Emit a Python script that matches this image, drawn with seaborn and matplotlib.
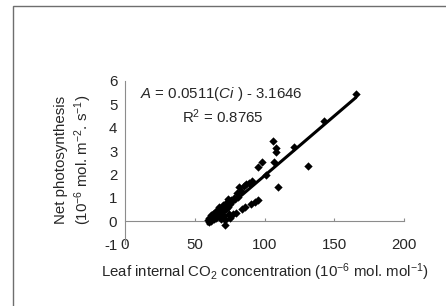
import matplotlib
matplotlib.use("Agg")
import matplotlib.pyplot as plt
import matplotlib.patches as mpatches
import seaborn as sns
import numpy as np
import pandas as pd

# leaf internal CO2 (Ci) vs net photosynthesis (A)
ci = [59.5, 60, 60.5, 61, 61.5, 62, 62.5, 63, 63.5, 64, 64.5, 65, 65.5, 66,
      66.5, 67, 67.5, 68, 68.5, 69, 69.5, 70, 70.5, 71, 71.5, 72, 72.5, 73,
      73.5, 74, 74.5, 75, 75.5, 76, 77, 77.5, 78, 79, 79.5, 80, 81, 82, 83,
      84, 85, 86, 87, 89, 90.5, 91, 93, 95.5, 95, 98.5, 101, 106, 106.5,
      108, 108.5, 109.5, 121.5, 131.5, 142.5, 165.5]
a_net = [0.05, -0.05, 0.15, 0.1, 0.25, 0.0, 0.2, 0.3, 0.1, 0.35, 0.2, 0.4,
         0.15, 0.3, 0.5, 0.25, 0.6, 0.4, 0.1, 0.55, 0.3, 0.45, 0.7, 0.2,
         0.05, -0.15, 0.5, 0.8, 0.95, 0.6, 0.3, 0.75, 0.15, 0.9, 0.85, 0.3,
         1.0, 0.95, 0.35, 1.2, 1.05, 1.45, 1.3, 0.5, 1.5, 0.6, 1.6, 1.65,
         0.75, 1.7, 0.83, 0.9, 2.3, 2.55, 1.97, 3.43, 2.55, 2.97, 3.12, 1.47,
         3.18, 2.37, 4.3, 5.43]

slope = 0.0511
intercept = -3.1646
r2 = 0.8765

x_ticks = [0, 50, 100, 150, 200]
y_ticks = [-1, 0, 1, 2, 3, 4, 5, 6]

df = pd.DataFrame({"Ci": ci, "A": a_net})
fit_x = np.array([min(ci), max(ci)])
fit = pd.DataFrame({"Ci": fit_x, "A": slope * fit_x + intercept})

sns.set_style("white")
plt.rcParams["font.family"] = ["Liberation Sans", "DejaVu Sans"]
plt.rcParams["mathtext.fontset"] = "custom"
plt.rcParams["mathtext.rm"] = "Liberation Sans"
plt.rcParams["mathtext.it"] = "Liberation Sans:italic"
plt.rcParams["mathtext.default"] = "regular"
plt.rcParams["axes.unicode_minus"] = False

fig = plt.figure(figsize=(4.46, 3.06), dpi=100)
ax = fig.add_axes([0.2803, 0.201, 0.6255, 0.5343])

axis_grey = "#8c8c8c"
fs = 10.8

sns.lineplot(data=fit, x="Ci", y="A", color="black", linewidth=2.2, ax=ax)
sns.scatterplot(data=df, x="Ci", y="A", marker="D", s=18, color="black",
                linewidth=0, ax=ax, zorder=3)

ax.set_xlim(0, 200)
ax.set_ylim(-1, 6)
ax.set_xticks(x_ticks)
ax.set_yticks(y_ticks)
ax.set_xlabel("")
ax.set_ylabel("")

for side in ["top", "right", "bottom"]:
    ax.spines[side].set_visible(False)
ax.spines["left"].set_color(axis_grey)
ax.spines["left"].set_linewidth(0.8)

ax.tick_params(axis="y", direction="out", length=2.5, width=0.8,
               color=axis_grey, pad=3, labelsize=fs)
ax.tick_params(axis="x", length=0, pad=-5, labelsize=fs)

# horizontal axis drawn through y = 0, labels stay at the bottom (Excel style)
zero_ax = ax.secondary_xaxis(1 / 7)
zero_ax.set_xticks(x_ticks[1:])
zero_ax.tick_params(direction="in", length=2.5, width=0.8, color=axis_grey,
                    labelbottom=False, labeltop=False)
zero_ax.spines["bottom"].set_color(axis_grey)
zero_ax.spines["bottom"].set_linewidth(0.8)
for side in ["top", "left", "right"]:
    zero_ax.spines[side].set_visible(False)

ax.text(0.344, 0.919, r"$\it{A}$ = 0.0511($\it{Ci}$ ) - 3.1646",
        transform=ax.transAxes, ha="center", va="center", fontsize=fs)
ax.text(0.352, 0.78, "R$^{2}$ = " + f"{r2:.4f}",
        transform=ax.transAxes, ha="center", va="center", fontsize=fs)

fig.text(264.5 / 446, 1 - 272 / 306,
         "Leaf internal CO$_{2}$ concentration (10$^{-6}$ mol. mol$^{-1}$)",
         ha="center", va="center", fontsize=fs)
fig.text(61 / 446, 1 - 160 / 306, "Net photosynthesis", rotation=90,
         ha="center", va="center", fontsize=fs)
fig.text(83 / 446, 1 - 160 / 306, "(10$^{-6}$ mol. m$^{-2}$. s$^{-1}$)",
         rotation=90, ha="center", va="center", fontsize=fs)

# outer frame, cut off at the right and bottom edges
frame = mpatches.Rectangle((12.5 / 446, -0.1), 1.2, 1.1 - 5.5 / 306,
                           transform=fig.transFigure, fill=False,
                           edgecolor="#6e6e6e", linewidth=1.0)
fig.patches.append(frame)

fig.savefig("out.png", dpi=100)
